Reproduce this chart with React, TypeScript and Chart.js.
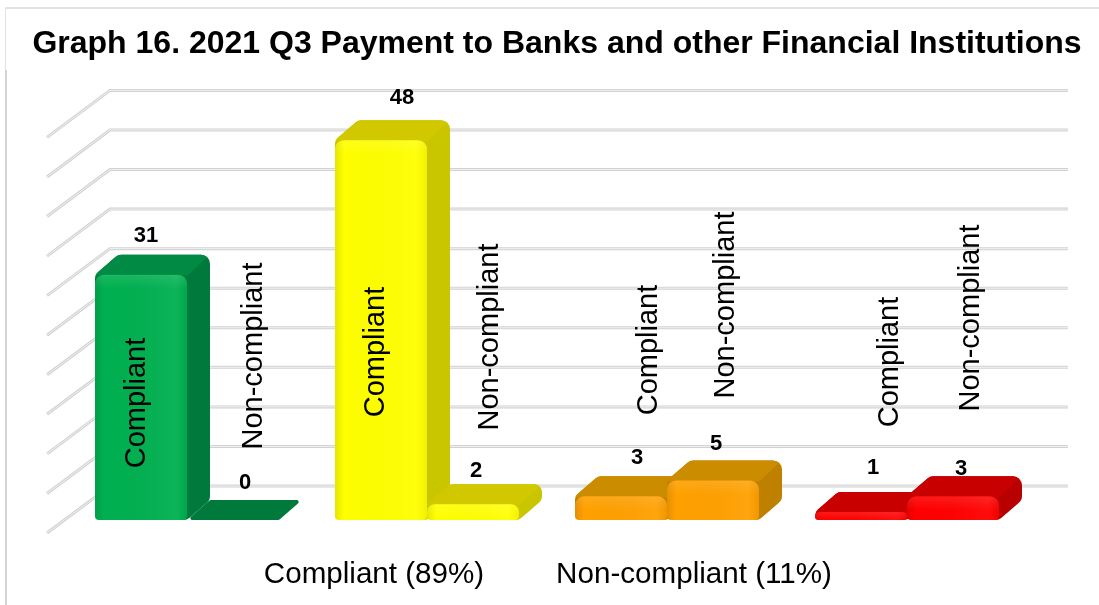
import React, { useEffect, useRef } from "react";
import { Chart, registerables } from "chart.js";

Chart.register(...registerables);

const titleText = "Graph 16. 2021 Q3 Payment to Banks and other Financial Institutions";
const groups = ["Green", "Yellow", "Orange", "Red"];
const seriesNames = ["Compliant", "Non-compliant"];
const compliant = [31, 48, 3, 1];
const nonCompliant = [0, 2, 5, 3];
const legendTexts = ["Compliant (89%)", "Non-compliant (11%)"];

const frontColors = ["#00B050", "#FFFF00", "#FFA000", "#FF0000"];
const topColors = ["#008A44", "#D2C800", "#CC8C00", "#C80000"];
const sideColors = ["#007A3C", "#C9C600", "#BF8000", "#B80000"];

// label placement relative to each bar
const nameOffsetX = [[-4, -5, 28, 29], [21, 17, 13, 18]];
const nameCentreY = [[403, 352, 350, 362], [356, 337, 305, 318]];
const valueOffset = [
  [[5, -39], [21, -42], [16, -38], [12, -44]],
  [[12, -37], [3, -33], [3, -37], [8, -27]],
];
const legendCentres = [374, 694];

const DEPTH_X = 23;
const DEPTH_Y = 20;
const WALL_BACK = { dx: 43, dy: -34 };
const WALL_FRONT = { x: 47, dy: 13 };
const WALL_RIGHT = 1068;

function roundPath(ctx: CanvasRenderingContext2D, raw: number[][], radius: number) {
  const pts = raw.filter((p, i) => {
    const q = raw[(i + 1) % raw.length];
    return Math.hypot(p[0] - q[0], p[1] - q[1]) > 0.5;
  });
  const n = pts.length;
  ctx.beginPath();
  const m0 = [(pts[n - 1][0] + pts[0][0]) / 2, (pts[n - 1][1] + pts[0][1]) / 2];
  ctx.moveTo(m0[0], m0[1]);
  for (let i = 0; i < n; i++) {
    const p = pts[i];
    const a = pts[(i - 1 + n) % n];
    const b = pts[(i + 1) % n];
    const ax = a[0] - p[0];
    const ay = a[1] - p[1];
    const bx = b[0] - p[0];
    const by = b[1] - p[1];
    const la = Math.hypot(ax, ay);
    const lb = Math.hypot(bx, by);
    const cos = Math.max(-1, Math.min(1, (ax * bx + ay * by) / (la * lb)));
    const theta = Math.acos(cos);
    const limit = (Math.min(la, lb) / 2) * Math.tan(theta / 2);
    ctx.arcTo(p[0], p[1], b[0], b[1], Math.min(radius, limit));
  }
  ctx.closePath();
}

const depthPlugin = {
  id: "depth",
  beforeDraw(chart: any) {
    const { ctx, width, height, scales } = chart;
    ctx.save();
    ctx.fillStyle = "#ffffff";
    ctx.fillRect(0, 0, width, height);
    ctx.fillStyle = "#E2E2E2";
    ctx.fillRect(5, 7, width - 5, 2);
    ctx.fillRect(5, 7, 1, 63);
    ctx.fillStyle = "#D4D4D4";
    ctx.fillRect(5, 70, 2, height - 70);

    const y = scales.y;
    y.ticks.forEach((t: any) => {
      const py = y.getPixelForValue(t.value);
      const backX = chart.chartArea.left + WALL_BACK.dx;
      const backY = py + WALL_BACK.dy;
      ctx.beginPath();
      ctx.moveTo(WALL_FRONT.x, py + WALL_FRONT.dy);
      ctx.lineTo(backX, backY);
      ctx.lineTo(WALL_RIGHT, backY);
      ctx.strokeStyle = "#D2D2D2";
      ctx.lineWidth = 3;
      ctx.lineJoin = "miter";
      ctx.stroke();
      ctx.strokeStyle = "#F1F1F1";
      ctx.lineWidth = 1;
      ctx.stroke();
    });
    ctx.restore();
  },
  beforeDatasetsDraw(chart: any) {
    const { ctx } = chart;
    [0, 1].forEach((di) => {
      const meta = chart.getDatasetMeta(di);
      meta.data.forEach((bar: any, gi: number) => {
        const left = bar.x - bar.width / 2;
        const right = bar.x + bar.width / 2;
        const top = bar.y;
        const base = bar.base;
        const flat = base - top < 1;
        const hex = [
          [left, base],
          [left, top],
          [left + DEPTH_X, top - DEPTH_Y],
          [right + DEPTH_X, top - DEPTH_Y],
          [right + DEPTH_X, base - DEPTH_Y],
          [right, base],
        ];
        ctx.save();
        roundPath(ctx, hex, flat ? 2 : 9);
        ctx.fillStyle = sideColors[gi];
        ctx.fill();
        if (!flat) {
          ctx.clip();
          ctx.beginPath();
          ctx.moveTo(left - 2, top + 1);
          ctx.lineTo(left + DEPTH_X, top - DEPTH_Y - 1);
          ctx.lineTo(right + DEPTH_X + 1, top - DEPTH_Y - 1);
          ctx.lineTo(right, top + 1);
          ctx.closePath();
          ctx.fillStyle = topColors[gi];
          ctx.fill();
        }
        ctx.restore();
      });
      meta.controller.draw();
      meta.data.forEach((bar: any) => {
        const left = bar.x - bar.width / 2;
        const h = bar.base - bar.y;
        if (h < 1) return;
        ctx.save();
        ctx.beginPath();
        ctx.roundRect(left, bar.y, bar.width, h, [9, 9, 4, 4]);
        ctx.clip();
        const g = ctx.createLinearGradient(left, 0, left + bar.width, 0);
        g.addColorStop(0, "rgba(0,0,0,0.10)");
        g.addColorStop(0.1, "rgba(0,0,0,0)");
        g.addColorStop(0.88, "rgba(255,255,255,0.05)");
        g.addColorStop(1, "rgba(0,0,0,0.06)");
        ctx.fillStyle = g;
        ctx.fillRect(left, bar.y, bar.width, h);
        const v = ctx.createLinearGradient(0, bar.y, 0, bar.y + Math.min(h, 14));
        v.addColorStop(0, "rgba(255,255,255,0.10)");
        v.addColorStop(1, "rgba(255,255,255,0)");
        ctx.fillStyle = v;
        ctx.fillRect(left, bar.y, bar.width, h);
        ctx.restore();
      });
    });
    return false;
  },
  afterDraw(chart: any) {
    const { ctx } = chart;
    ctx.save();
    ctx.fillStyle = "#000000";
    ctx.textAlign = "center";
    ctx.textBaseline = "middle";
    [0, 1].forEach((di) => {
      chart.getDatasetMeta(di).data.forEach((bar: any, gi: number) => {
        ctx.font = "bold 22px 'Liberation Sans'";
        const value = di === 0 ? compliant[gi] : nonCompliant[gi];
        ctx.fillText(String(value), bar.x + valueOffset[di][gi][0], bar.y + valueOffset[di][gi][1]);
        ctx.save();
        ctx.translate(bar.x + nameOffsetX[di][gi], nameCentreY[di][gi]);
        ctx.rotate(-Math.PI / 2);
        ctx.font = "29px 'Liberation Sans'";
        ctx.fillText(seriesNames[di], 0, 0);
        ctx.restore();
      });
    });
    ctx.font = "29.6px 'Liberation Sans'";
    legendTexts.forEach((t, i) => ctx.fillText(t, legendCentres[i], 575));
    ctx.restore();
  },
};

export default function App() {
  const ref = useRef<HTMLCanvasElement>(null);
  useEffect(() => {
    const radius = { topLeft: 9, topRight: 9, bottomLeft: 4, bottomRight: 4 };
    const chart = new Chart(ref.current as HTMLCanvasElement, {
      type: "bar",
      data: {
        labels: groups,
        datasets: [
          {
            label: seriesNames[0],
            data: compliant,
            backgroundColor: frontColors,
            borderRadius: radius,
            borderSkipped: false,
            categoryPercentage: 184 / 240,
            barPercentage: 1,
          },
          {
            label: seriesNames[1],
            data: nonCompliant,
            backgroundColor: frontColors,
            borderRadius: radius,
            borderSkipped: false,
            categoryPercentage: 184 / 240,
            barPercentage: 1,
          },
        ],
      },
      options: {
        responsive: false,
        animation: false,
        layout: { padding: { left: 15, right: 0, top: 0, bottom: 85 } },
        plugins: {
          legend: { display: false },
          tooltip: { enabled: false },
          title: {
            display: true,
            text: titleText,
            color: "#000000",
            font: { family: "'Liberation Sans'", size: 32, weight: "bold" },
            padding: { top: 25, bottom: 61 },
          },
        },
        scales: {
          x: { display: false },
          y: {
            min: 0,
            max: 50,
            ticks: { display: false, stepSize: 5 },
            grid: { display: false },
            border: { display: false },
            afterFit(s: any) {
              s.width = 52;
            },
          },
          yRight: {
            position: "right",
            display: true,
            min: 0,
            max: 50,
            ticks: { display: false },
            grid: { display: false },
            border: { display: false },
            afterFit(s: any) {
              s.width = 72;
            },
          },
        },
      },
      plugins: [depthPlugin],
    } as any);
    return () => chart.destroy();
  }, []);
  return (
    <div style={{ position: "absolute", left: 0, top: 0, width: 1099, height: 605 }}>
      <canvas ref={ref} width={1099} height={605} style={{ display: "block" }} />
    </div>
  );
}
